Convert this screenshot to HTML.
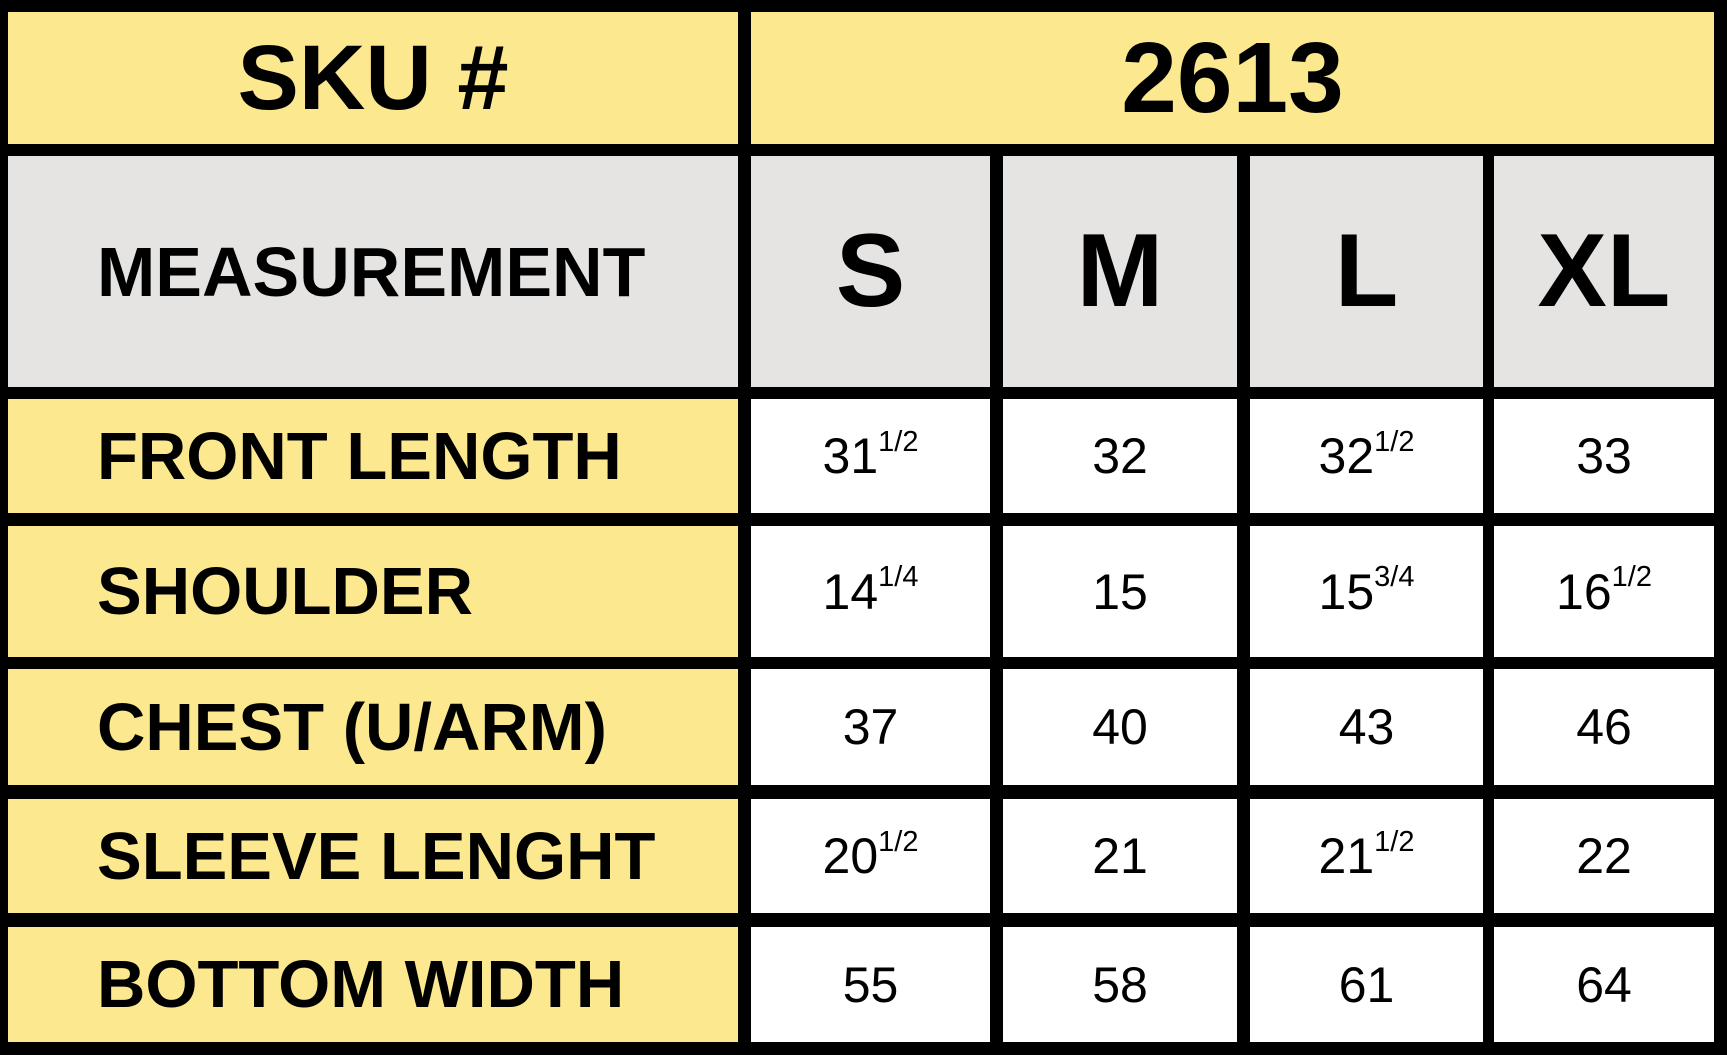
<!DOCTYPE html>
<html><head><meta charset="utf-8"><style>
html,body{margin:0;padding:0;}
body{width:1727px;height:1055px;background:#000;position:relative;overflow:hidden;font-family:"Liberation Sans",sans-serif;}
.c{position:absolute;display:flex;align-items:center;justify-content:center;box-sizing:border-box;color:#000;}
.y{background:#fbe88f;}
.g{background:#e5e4e2;}
.w{background:#fff;}
.lbl{justify-content:flex-start;padding-left:89px;font-weight:bold;font-size:67px;}
.hdr{font-weight:bold;font-size:100px;}
.sz{font-weight:bold;font-size:104px;}
.v{font-size:50px;}
.v sup{font-size:29px;vertical-align:0;position:relative;top:-14px;}
</style></head><body>
<div class="c y hdr" style="left:8px;top:12px;width:730px;height:132px;font-size:92px">SKU #</div>
<div class="c y hdr" style="left:751px;top:12px;width:963px;height:132px">2613</div>
<div class="c g lbl" style="left:8px;top:156px;width:730px;height:231px;font-size:70px">MEASUREMENT</div>
<script>
const sizes=["S","M","L","XL"];
const rows=["FRONT LENGTH","SHOULDER","CHEST (U/ARM)","SLEEVE LENGHT","BOTTOM WIDTH"];
const whole=[[31,32,32,33],[14,15,15,16],[37,40,43,46],[20,21,21,22],[55,58,61,64]];
const fracs=[["1/2","","1/2",""],["1/4","","3/4","1/2"],["","","",""],["1/2","","1/2",""],["","","",""]];
const colX=[[751,990],[1003,1237],[1250,1483],[1494,1714]];
const rowY=[[399,513],[526,657],[669,785],[799,913],[927,1042]];
const b=document.body;
sizes.forEach((s,i)=>{
  const d=document.createElement('div');
  d.className='c g sz';
  d.style.cssText=`left:${colX[i][0]}px;top:156px;width:${colX[i][1]-colX[i][0]}px;height:231px`;
  d.textContent=s;
  
  
  b.appendChild(d);
});
rows.forEach((r,j)=>{
  const l=document.createElement('div');
  l.className='c y lbl';
  l.style.cssText=`left:8px;top:${rowY[j][0]}px;width:730px;height:${rowY[j][1]-rowY[j][0]}px`;
  l.textContent=r;
  
  
  b.appendChild(l);
  sizes.forEach((s,i)=>{
    const d=document.createElement('div');
    d.className='c w v';
    d.style.cssText=`left:${colX[i][0]}px;top:${rowY[j][0]}px;width:${colX[i][1]-colX[i][0]}px;height:${rowY[j][1]-rowY[j][0]}px`;
    d.innerHTML=whole[j][i]+(fracs[j][i]?'<sup>'+fracs[j][i]+'</sup>':'');
    
    
    b.appendChild(d);
  });
});
</script>
</body></html>
